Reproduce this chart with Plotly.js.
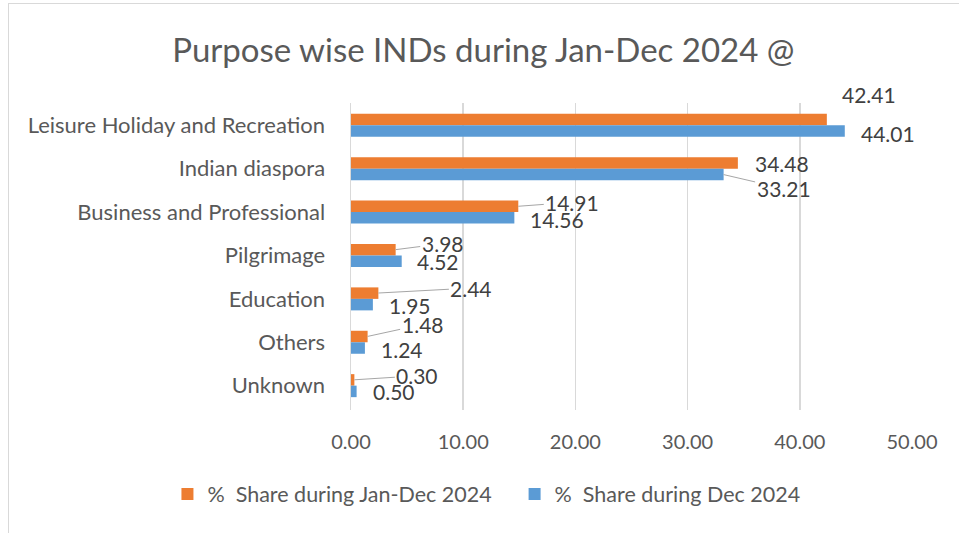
<!DOCTYPE html>
<html>
<head>
<meta charset="utf-8">
<script src="https://cdn.plot.ly/plotly-3.0.1.min.js"></script>
<style>
  html, body { margin: 0; padding: 0; background: #fff; }
  #wrap { position: relative; width: 959px; height: 533px; overflow: hidden; }
  #frame { position: absolute; left: 8px; top: 3px; width: 980px; height: 560px; border: 1px solid #d9d9d9; box-sizing: border-box; }
  #chart { position: absolute; left: 0; top: 0; width: 959px; height: 533px; }
</style>
</head>
<body>
<div id="wrap">
  <div id="frame"></div>
  <div id="chart"></div>
</div>
<script>
// ---- data ----
const categories = [
  "Leisure Holiday and Recreation",
  "Indian diaspora",
  "Business and Professional",
  "Pilgrimage",
  "Education",
  "Others",
  "Unknown"
];
const shareJanDec = [42.41, 34.48, 14.91, 3.98, 2.44, 1.48, 0.30];
const shareDec    = [44.01, 33.21, 14.56, 4.52, 1.95, 1.24, 0.50];
const seriesNames = ["%\u00a0 Share during Jan-Dec 2024", "%\u00a0 Share during Dec 2024"];
const xTickVals = [0, 10, 20, 30, 40, 50];
const chartTitle = "Purpose wise INDs during Jan-Dec 2024 @";

// ---- label placement (pixel offsets from bar end, leader flag) ----
const orangeLabelPos = [
  [42, -25, false], [44, 1, false], [54, -4, true], [47, -6, true],
  [93, -5, true], [55, -12, true], [63, -4, true]
];
const blueLabelPos = [
  [43, 2, false], [60, 14, true], [43, 2, false], [36, 0, false],
  [37, 1, false], [37, 1, false], [37, 0, false]
];

const FONT = "Lato, 'Open Sans', sans-serif";
const ORANGE = "#ED7D31";
const BLUE = "#5B9BD5";
const BAR_HALF = 5.85;

const traces = [
  { type: "bar", orientation: "h", name: seriesNames[0], y: categories, x: shareJanDec,
    marker: { color: ORANGE }, hoverinfo: "x+y", legend: "legend" },
  { type: "bar", orientation: "h", name: seriesNames[1], y: categories, x: shareDec,
    marker: { color: BLUE }, hoverinfo: "x+y", legend: "legend2" }
];

function makeLabels(values, pos, yshift) {
  return values.map((v, i) => ({
    x: v, y: categories[i], xref: "x", yref: "y",
    yshift: yshift,
    text: v.toFixed(2),
    showarrow: true,
    ax: pos[i][0], ay: pos[i][1],
    axref: "pixel", ayref: "pixel",
    arrowhead: 0, arrowwidth: 1, standoff: 0,
    arrowcolor: pos[i][2] ? "#a6a6a6" : "rgba(0,0,0,0)",
    font: { family: FONT, size: 21, color: "#404040" }
  }));
}

const annotations = [
  ...makeLabels(shareJanDec, orangeLabelPos, BAR_HALF),
  ...makeLabels(shareDec, blueLabelPos, -BAR_HALF)
];

const legendBase = {
  orientation: "h", xref: "container", yref: "container",
  xanchor: "left", y: 0.073, yanchor: "middle",
  font: { family: FONT, size: 21.5, color: "#595959" },
  itemwidth: 30, bgcolor: "rgba(0,0,0,0)"
};

const layout = {
  width: 959, height: 533,
  margin: { l: 351, r: 47, t: 103, b: 123 },
  paper_bgcolor: "rgba(0,0,0,0)",
  plot_bgcolor: "rgba(0,0,0,0)",
  font: { family: FONT, color: "#595959" },
  title: { text: chartTitle, x: 0.504, xanchor: "center", y: 0.905, yanchor: "middle",
           font: { family: FONT, size: 33, color: "#595959" } },
  barmode: "group",
  bargap: 0.47,
  bargroupgap: 0,
  xaxis: {
    range: [0, 50], tickvals: xTickVals, tickformat: ".2f",
    showgrid: true, gridcolor: "#d9d9d9", gridwidth: 1.5,
    zeroline: false, showline: false, ticks: "",
    ticklabelstandoff: 18,
    tickfont: { family: FONT, size: 20, color: "#595959" }
  },
  yaxis: {
    autorange: "reversed", type: "category",
    showgrid: false, zeroline: false, showline: true, linecolor: "#d9d9d9", linewidth: 1.5,
    ticks: "", ticklabelstandoff: 20,
    tickfont: { family: FONT, size: 22, color: "#595959" }
  },
  legend: Object.assign({}, legendBase, { x: 0.1746 }),
  legend2: Object.assign({}, legendBase, { x: 0.5366 }),
  annotations: annotations,
  showlegend: true
};

Plotly.newPlot("chart", traces, layout, { displayModeBar: false, staticPlot: true });
</script>
</body>
</html>
